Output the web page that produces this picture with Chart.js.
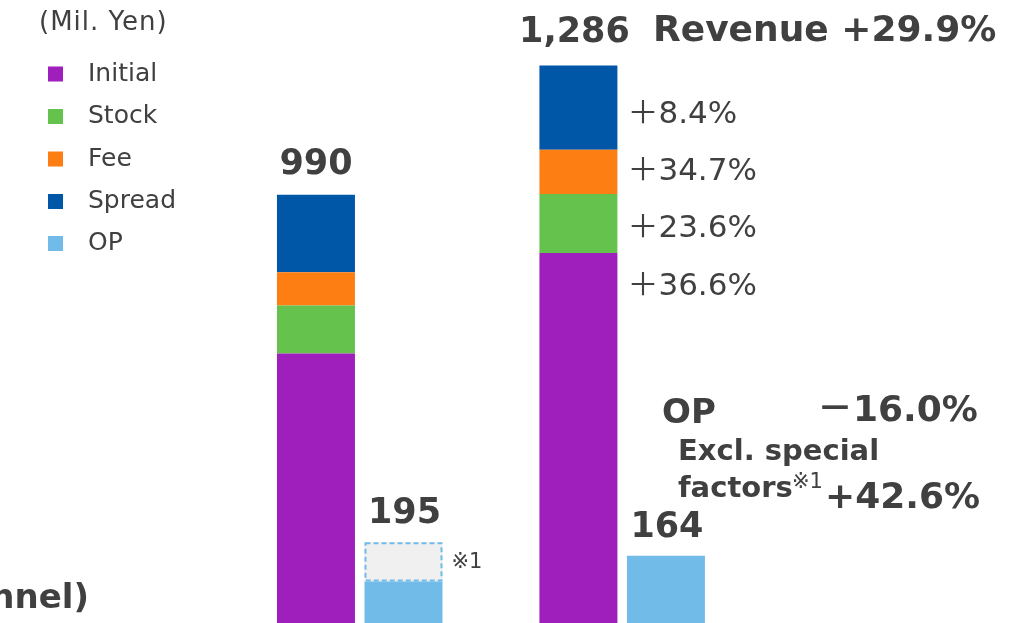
<!DOCTYPE html>
<html>
<head>
<meta charset="utf-8">
<script src="https://cdn.jsdelivr.net/npm/chart.js@4.4.1/dist/chart.umd.min.js"></script>
<style>
  html, body { margin: 0; padding: 0; background: #ffffff; }
  #wrap { width: 1014px; height: 623px; position: relative; overflow: hidden; }
  canvas { display: block; }
</style>
</head>
<body>
<div id="wrap"><canvas id="c" width="1014" height="623"></canvas></div>
<script>
// ---- data (Mil. Yen) ----
const categories = ["Prev. FY", "Curr. FY"];
const initialValues = [627, 857];
const stockValues   = [110, 135];
const feeValues     = [76, 101];
const spreadValues  = [177, 193];
const opValues      = [105, 164];
const specialValues = [90, 0];          // special factors (dashed part of OP)
const revenueTotals = ["990", "1,286"];
const opTotals      = ["195", "164"];
const growthLabels  = ["＋36.6%", "＋23.6%", "＋34.7%", "＋8.4%"]; // Initial, Stock, Fee, Spread
const unitLabel = "(Mil. Yen)";

const COL = {
  initial: "#9E1FBB", stock: "#64C24D", fee: "#FD7F13",
  spread: "#0057A8", op: "#71BBE8", special: "#F0F0F0", text: "#404040"
};
const FONT = "'DejaVu Sans', 'Noto Sans CJK JP', sans-serif";

const common = { categoryPercentage: 0.667, barPercentage: 0.891, borderWidth: 0 };

const annotations = {
  id: "annotations",
  afterDatasetsDraw(chart) {
    const ctx = chart.ctx;
    ctx.save();
    ctx.fillStyle = COL.text;
    ctx.textBaseline = "middle";

    // unit label
    ctx.font = "26px " + FONT;
    ctx.textAlign = "left";
    ctx.letterSpacing = "1px";
    ctx.fillText(unitLabel, 39, 23);
    ctx.letterSpacing = "0px";

    // legend (first five datasets)
    const legendY = [74, 116.5, 159, 201.5, 243.5];
    chart.data.datasets.slice(0, 5).forEach((ds, i) => {
      ctx.fillStyle = ds.backgroundColor;
      ctx.fillRect(48, legendY[i] - 7.5, 15, 15);
      ctx.fillStyle = COL.text;
      ctx.font = "25px " + FONT;
      ctx.fillText(ds.label, 88, legendY[i]);
    });

    const spreadMeta = chart.getDatasetMeta(3);
    const opMeta = chart.getDatasetMeta(4);
    const specMeta = chart.getDatasetMeta(5);

    // dashed special-factor box
    specMeta.data.forEach((el, i) => {
      if (!specialValues[i]) return;
      const p = el.getProps(["x", "y", "base", "width"], true);
      ctx.save();
      ctx.strokeStyle = COL.op;
      ctx.lineWidth = 2;
      ctx.setLineDash([5, 3]);
      ctx.strokeRect(p.x - p.width / 2 + 1, p.y + 1, p.width - 2, p.base - p.y - 2);
      ctx.restore();
      ctx.font = "21px " + FONT;
      ctx.textAlign = "left";
      ctx.fillText("※1", p.x + p.width / 2 + 9, (p.y + p.base) / 2 + 1);
    });

    // revenue totals
    ctx.font = "bold 35px " + FONT;
    ctx.textAlign = "center";
    spreadMeta.data.forEach((el, i) => {
      const p = el.getProps(["x", "y"], true);
      ctx.fillText(revenueTotals[i], p.x - (i === 1 ? 4 : 0), p.y - (i === 1 ? 33 : 30));
    });
    // OP totals
    opMeta.data.forEach((el, i) => {
      let top = el.getProps(["y"], true).y;
      if (specialValues[i]) top = specMeta.data[i].getProps(["y"], true).y;
      ctx.fillText(opTotals[i], el.getProps(["x"], true).x + 1, top - 28);
    });

    // Revenue growth headline
    ctx.textAlign = "left";
    ctx.font = "bold 36px " + FONT;
    ctx.fillText("Revenue +29.9%", 653, 32);

    // segment growth labels next to current-year bar
    ctx.font = "31px " + FONT;
    const offs = [null, 5, 0, 7];
    [0, 1, 2, 3].forEach(di => {
      const el = chart.getDatasetMeta(di).data[1];
      const p = el.getProps(["x", "y", "base", "width"], true);
      const y = di === 0 ? p.y + 34 : (p.y + p.base) / 2 + offs[di];
      ctx.fillText(growthLabels[di], p.x + p.width / 2 + 10, y);
    });

    // OP annotation
    ctx.font = "bold 34px " + FONT;
    ctx.fillText("OP", 662, 414);
    ctx.font = "bold 36px " + FONT;
    ctx.fillText("－16.0%", 817, 412);
    ctx.font = "bold 29px " + FONT;
    ctx.fillText("Excl. special", 678, 452);
    ctx.fillText("factors", 678, 489);
    ctx.font = "21px " + FONT;
    ctx.fillText("※1", 792, 483);
    ctx.font = "bold 36px " + FONT;
    ctx.fillText("+42.6%", 825, 499);

    // cut-off title fragment at bottom-left
    ctx.font = "bold 34px " + FONT;
    ctx.textAlign = "right";
    ctx.fillText("nnel)", 89, 599);

    ctx.restore();
  }
};

new Chart(document.getElementById("c"), {
  type: "bar",
  data: {
    labels: categories,
    datasets: [
      { label: "Initial", data: initialValues, backgroundColor: COL.initial, stack: "rev", ...common },
      { label: "Stock",   data: stockValues,   backgroundColor: COL.stock,   stack: "rev", ...common },
      { label: "Fee",     data: feeValues,     backgroundColor: COL.fee,     stack: "rev", ...common },
      { label: "Spread",  data: spreadValues,  backgroundColor: COL.spread,  stack: "rev", ...common },
      { label: "OP",      data: opValues,      backgroundColor: COL.op,      stack: "op",  ...common },
      { label: "Special factors", data: specialValues, backgroundColor: COL.special, stack: "op", ...common }
    ]
  },
  options: {
    responsive: false,
    devicePixelRatio: 1,
    animation: false,
    layout: { padding: { left: 228.5, right: 260.6, top: 0, bottom: 0 } },
    plugins: { legend: { display: false }, tooltip: { enabled: false } },
    scales: {
      x: { stacked: true, display: false },
      y: { stacked: true, display: false, min: 10, max: 1436 }
    }
  },
  plugins: [annotations]
});
</script>
</body>
</html>
